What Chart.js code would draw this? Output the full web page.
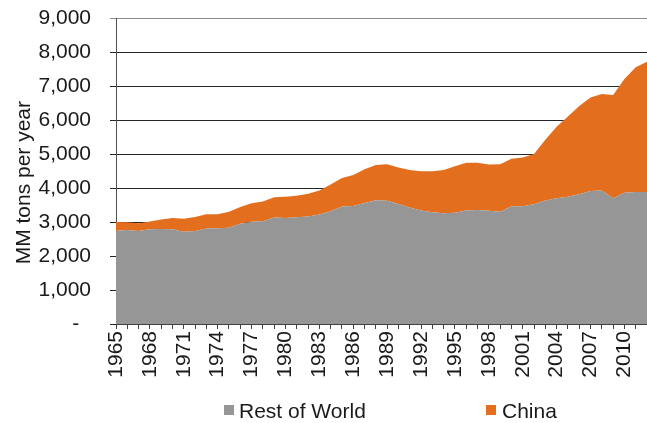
<!DOCTYPE html>
<html>
<head>
<meta charset="utf-8">
<script src="https://cdn.jsdelivr.net/npm/chart.js@4.4.0/dist/chart.umd.min.js"></script>
<style>
  html, body { margin: 0; padding: 0; background: #ffffff; }
  #wrap { position: relative; width: 647px; height: 423px; overflow: hidden; }
  #legend { position: absolute; left: 0; top: 0; width: 647px; height: 423px; pointer-events: none;
            font-family: 'Liberation Sans', Arial, sans-serif; font-size: 21px; color: #1a1a1a; }
  .lg-box { position: absolute; width: 10px; height: 10px; }
  .lg-text { position: absolute; line-height: 21px; white-space: nowrap; }
</style>
</head>
<body>
<div id="wrap">
  <canvas id="c" width="647" height="423"></canvas>
  <div id="legend"></div>
</div>
<script>
const years = ['1965','1966','1967','1968','1969','1970','1971','1972','1973','1974',
               '1975','1976','1977','1978','1979','1980','1981','1982','1983','1984',
               '1985','1986','1987','1988','1989','1990','1991','1992','1993','1994',
               '1995','1996','1997','1998','1999','2000','2001','2002','2003','2004',
               '2005','2006','2007','2008','2009','2010','2011','2012'];

const restOfWorld = [2745,2765,2735,2785,2795,2785,2715,2735,2810,2815,
                     2830,2950,3010,3025,3130,3115,3140,3165,3220,3315,
                     3455,3470,3560,3640,3625,3530,3430,3340,3285,3260,
                     3275,3335,3350,3330,3300,3460,3460,3520,3635,3700,
                     3745,3815,3910,3930,3695,3860,3880,3880];

const china = [255,230,225,230,280,330,380,415,420,415,
               475,490,540,575,595,625,630,665,710,785,
               840,915,990,1040,1075,1070,1100,1150,1205,1270,
               1365,1410,1395,1360,1395,1400,1440,1480,1785,2105,
               2355,2595,2755,2835,3040,3345,3670,3835];

const yTickLabels = ['-','1,000','2,000','3,000','4,000','5,000','6,000','7,000','8,000','9,000'];
const seriesNames = ['Rest of World','China'];
const yTitle = 'MM tons per year';

const GRAY = '#969696';
const ORANGE = '#E36F1E';
const FONT = "'Liberation Sans', Arial, sans-serif";
const TEXT = '#1a1a1a';

const ctx = document.getElementById('c').getContext('2d');
const chart = new Chart(ctx, {
  type: 'line',
  data: {
    labels: years,
    datasets: [
      { label: seriesNames[0], data: restOfWorld, backgroundColor: GRAY, borderColor: GRAY,
        borderWidth: 0, pointRadius: 0, fill: 'origin', tension: 0 },
      { label: seriesNames[1], data: china, backgroundColor: ORANGE, borderColor: ORANGE,
        borderWidth: 0, pointRadius: 0, fill: '-1', tension: 0 }
    ]
  },
  options: {
    responsive: false,
    animation: false,
    layout: { padding: { left: 0, right: 0, top: 18, bottom: 0 } },
    plugins: { legend: { display: false }, tooltip: { enabled: false } },
    scales: {
      x: {
        offset: false,
        grid: { display: true, drawOnChartArea: false, drawTicks: true, tickLength: 5, color: '#404040' },
        border: { display: true, color: '#404040', width: 1 },
        ticks: {
          autoSkip: false, maxRotation: 90, minRotation: 90, padding: 2,
          color: TEXT, font: { family: FONT, size: 21 },
          callback: function(val, idx) { return idx % 3 === 0 ? years[idx] : ''; }
        },
        afterFit: function(s) { s.height = 99; s.paddingLeft = 0; s.paddingRight = 0; }
      },
      y: {
        stacked: true,
        min: 0, max: 9000,
        grid: {
          drawTicks: true, tickLength: 6,
          color: function(c) { return (c.tick && c.tick.value === 9000) ? '#8c8c8c' : '#262626'; }
        },
        border: { display: true, color: '#505050', width: 1 },
        ticks: {
          stepSize: 1000, padding: 19, color: TEXT, font: { family: FONT, size: 21 },
          callback: function(v) {
            const lab = yTickLabels[Math.round(v / 1000)];
            return lab === '-' ? '-  ' : lab;
          }
        },
        title: {
          display: true, text: yTitle + '    ', color: TEXT,
          font: { family: FONT, size: 21, lineHeight: 1.2 },
          padding: { top: 12, bottom: 0 }
        },
        afterFit: function(s) { s.width = 116; s.paddingTop = 0; s.paddingBottom = 0; }
      }
    }
  }
});

// HTML legend built from datasets
const legend = document.getElementById('legend');
const legendPos = [{ box: 224, text: 239 }, { box: 486, text: 502 }];
chart.data.datasets.forEach(function(ds, i) {
  const b = document.createElement('div');
  b.className = 'lg-box';
  b.style.left = legendPos[i].box + 'px';
  b.style.top = '405px';
  b.style.background = ds.backgroundColor;
  legend.appendChild(b);
  const t = document.createElement('div');
  t.className = 'lg-text';
  t.style.left = legendPos[i].text + 'px';
  t.style.top = '400px';
  t.textContent = ds.label;
  legend.appendChild(t);
});
</script>
</body>
</html>
